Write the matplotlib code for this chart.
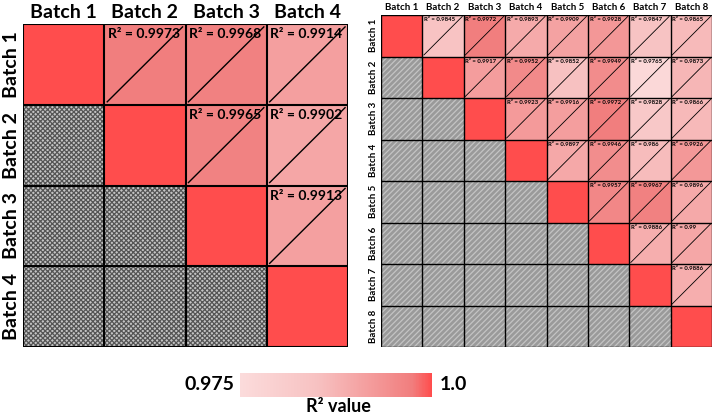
import numpy as np
import matplotlib
matplotlib.use("Agg")
import matplotlib.pyplot as plt
from matplotlib.colors import LinearSegmentedColormap, Normalize
from matplotlib.patches import Rectangle
from matplotlib.cm import ScalarMappable

plt.rcParams['font.family'] = ['Lato', 'DejaVu Sans']

# ---------------- data ----------------
left_labels = ["Batch 1", "Batch 2", "Batch 3", "Batch 4"]
left_r2 = {
    (0, 1): 0.9973, (0, 2): 0.9968, (0, 3): 0.9914,
    (1, 2): 0.9965, (1, 3): 0.9902,
    (2, 3): 0.9913,
}

right_labels = ["Batch 1", "Batch 2", "Batch 3", "Batch 4",
                "Batch 5", "Batch 6", "Batch 7", "Batch 8"]
right_row1 = [0.9845, 0.9972, 0.9893, 0.9909, 0.9928, 0.9847, 0.9865]
right_row2 = [0.9917, 0.9952, 0.9852, 0.9949, 0.9765, 0.9873]
right_row3 = [0.9923, 0.9916, 0.9972, 0.9828, 0.9866]
right_row4 = [0.9897, 0.9946, 0.986, 0.9926]
right_row5 = [0.9957, 0.9967, 0.9896]
right_row6 = [0.9886, 0.99]
right_row7 = [0.9886]
right_rows = [right_row1, right_row2, right_row3, right_row4,
              right_row5, right_row6, right_row7]

vmin, vmax = 0.975, 1.0

cmap = LinearSegmentedColormap.from_list(
    "r2", [(0.0, (0.985, 0.86, 0.86)),
           (0.4, (0.97, 0.76, 0.76)),
           (0.7, (0.955, 0.60, 0.60)),
           (0.9, (0.945, 0.49, 0.49)),
           (1.0, (1.0, 0.30, 0.30))])
norm = Normalize(vmin, vmax)


def build_matrix(n, entries):
    m = np.full((n, n), np.nan)
    for i in range(n):
        m[i, i] = 1.0
    for (i, j), v in entries.items():
        m[i, j] = v
    return m


left_mat = build_matrix(4, left_r2)
right_entries = {}
for i, row in enumerate(right_rows):
    for k, v in enumerate(row):
        right_entries[(i, i + 1 + k)] = v
right_mat = build_matrix(8, right_entries)

fig = plt.figure(figsize=(7.14, 4.18), dpi=100)


def draw_panel(ax, mat, labels, lab_fs, txt_fs, grid_lw, hatch, hface, hcol, line_lw):
    n = len(labels)
    masked = np.ma.masked_invalid(mat)
    ax.pcolormesh(np.arange(n + 1), np.arange(n + 1), masked,
                  cmap=cmap, norm=norm, shading='flat')
    for i in range(n):
        for j in range(n):
            if j < i:
                ax.add_patch(Rectangle((j, i), 1, 1, facecolor=hface,
                                       edgecolor=hcol, hatch=hatch, lw=0))
            elif j > i:
                ax.plot([j + 0.03, j + 0.97], [i + 0.97, i + 0.03],
                        color='black', lw=line_lw, solid_capstyle='butt')
                ax.text(j + 0.04, i + 0.05, f"R\u00b2 = {mat[i, j]:g}",
                        fontsize=txt_fs, fontweight='bold',
                        ha='left', va='top', color='black')
    for k in range(n + 1):
        ax.axhline(k, color='black', lw=grid_lw)
        ax.axvline(k, color='black', lw=grid_lw)
    ax.set_xlim(0, n)
    ax.set_ylim(n, 0)
    ax.xaxis.tick_top()
    ax.set_xticks(np.arange(n) + 0.5)
    ax.set_xticklabels(labels, fontsize=lab_fs, fontweight='bold')
    ax.set_yticks(np.arange(n) + 0.5)
    ax.set_yticklabels(labels, fontsize=lab_fs, fontweight='bold',
                       rotation=90, va='center')
    ax.tick_params(length=0, pad=2)
    for s in ax.spines.values():
        s.set_visible(False)


plt.rcParams['hatch.linewidth'] = 0.9
axL = fig.add_axes([23 / 714, 1 - 347 / 418, 325 / 714, 323 / 418])
draw_panel(axL, left_mat, left_labels, 14, 10, 1.5, 'xxxxxxx',
           '#c4c4c4', '#555555', 1.0)

axR = fig.add_axes([381 / 714, 1 - 347 / 418, 331 / 714, 332 / 418])
draw_panel(axR, right_mat, right_labels, 7, 4.3, 1.0, '//////',
           '#9a9a9a', '#c4c4c4', 0.6)

# colorbar
cax = fig.add_axes([240 / 714, 1 - 397 / 418, 192 / 714, 24 / 418])
cb = fig.colorbar(ScalarMappable(norm=norm, cmap=cmap), cax=cax,
                  orientation='horizontal')
cb.set_ticks([])
cb.outline.set_visible(False)
fig.text(234 / 714, 1 - 385 / 418, "0.975", ha='right', va='center',
         fontsize=14, fontweight='bold')
fig.text(440 / 714, 1 - 385 / 418, "1.0", ha='left', va='center',
         fontsize=14, fontweight='bold')
fig.text(338 / 714, 1 - 407 / 418, "R\u00b2 value", ha='center', va='center',
         fontsize=13, fontweight='bold')

fig.savefig("out.png", dpi=100)
